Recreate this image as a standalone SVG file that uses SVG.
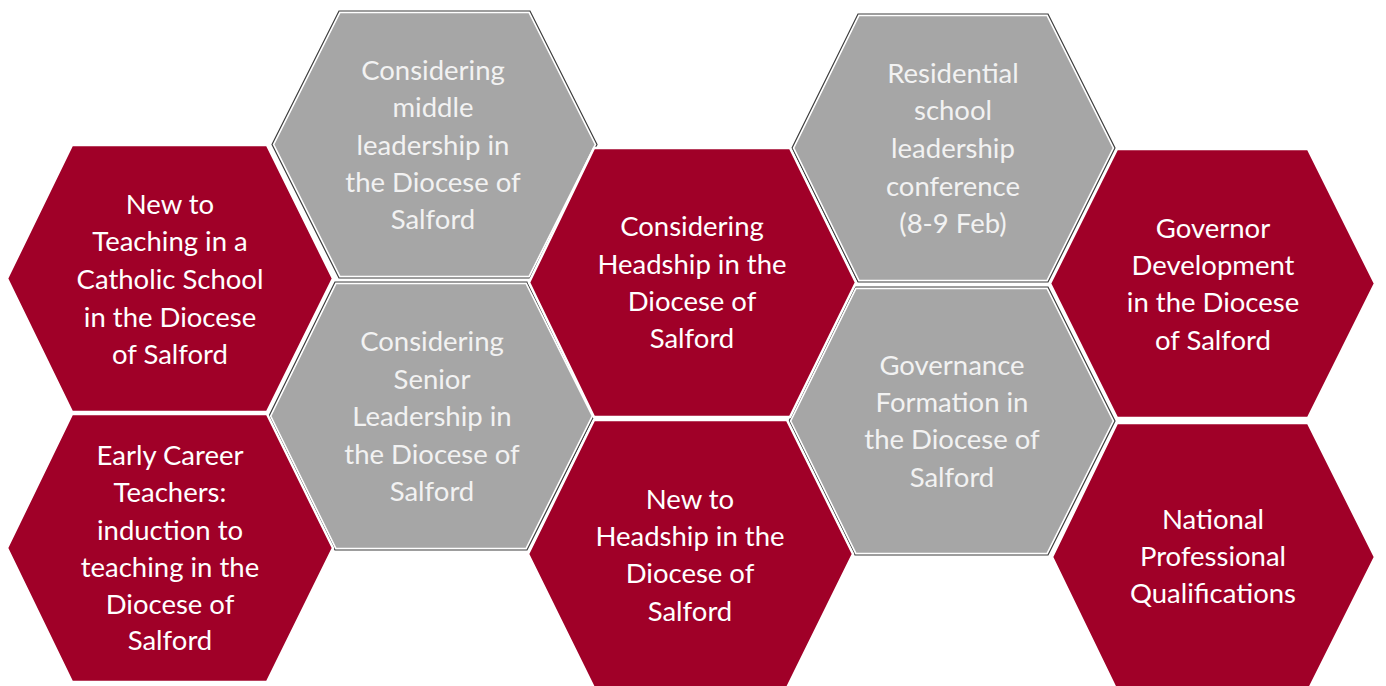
<svg xmlns="http://www.w3.org/2000/svg" width="1386" height="686" viewBox="0 0 1386 686">
<style>
.red{fill:#A00028;stroke:#ffffff;stroke-width:2.5;stroke-linejoin:miter}
.greyw{fill:#A6A6A6;stroke:#ffffff;stroke-width:4.5}
.greyd{fill:none;stroke:#3C3C3C;stroke-width:1.2}
text{font-family:"Lato","Liberation Sans",sans-serif;font-size:27.5px;text-anchor:middle}
.tr{fill:#ffffff}
.tg{fill:#F2F2F2}
</style>
<rect width="1386" height="686" fill="#ffffff"/>
<g id="connectors"></g>
<g id="n3">
<polygon class="greyw" points="339,11 530,11 597,144.5 530,278 339,278 272,144.5"/>
<polygon class="greyd" points="339,11 530,11 597,144.5 530,278 339,278 272,144.5"/>
<text class="tg"><tspan x="433" y="80">Considering</tspan><tspan x="433" y="117">middle</tspan><tspan x="433" y="155">leadership in</tspan><tspan x="433" y="192">the Diocese of</tspan><tspan x="433" y="229">Salford</tspan></text>
</g>
<g id="n4">
<polygon class="greyw" points="335,282 527,282 594,416 527,550 335,550 269,416"/>
<polygon class="greyd" points="335,282 527,282 594,416 527,550 335,550 269,416"/>
<text class="tg"><tspan x="432" y="351">Considering</tspan><tspan x="432" y="389">Senior</tspan><tspan x="432" y="426">Leadership in</tspan><tspan x="432" y="464">the Diocese of</tspan><tspan x="432" y="501">Salford</tspan></text>
</g>
<g id="n7">
<polygon class="greyw" points="858,14 1048,14 1115,148 1048,282 858,282 792,148"/>
<polygon class="greyd" points="858,14 1048,14 1115,148 1048,282 858,282 792,148"/>
<text class="tg"><tspan x="953" y="83">Residential</tspan><tspan x="953" y="120">school</tspan><tspan x="953" y="158">leadership</tspan><tspan x="953" y="196">conference</tspan><tspan x="953" y="233">(8-9 Feb)</tspan></text>
</g>
<g id="n8">
<polygon class="greyw" points="855,287 1048,287 1115,421 1048,555 855,555 789,421"/>
<polygon class="greyd" points="855,287 1048,287 1115,421 1048,555 855,555 789,421"/>
<text class="tg"><tspan x="952" y="375">Governance</tspan><tspan x="952" y="412">Formation in</tspan><tspan x="952" y="449">the Diocese of</tspan><tspan x="952" y="487">Salford</tspan></text>
</g>
<g id="n1">
<polygon class="red" points="72,145 267,145 333,278.5 267,412 72,412 7,278.5"/>
<text class="tr"><tspan x="170" y="214">New to</tspan><tspan x="170" y="251">Teaching in a</tspan><tspan x="170" y="289">Catholic School</tspan><tspan x="170" y="327">in the Diocese</tspan><tspan x="170" y="364">of Salford</tspan></text>
</g>
<g id="n2">
<polygon class="red" points="72,414 267,414 333,548 267,682 72,682 7,548"/>
<text class="tr"><tspan x="170" y="465">Early Career</tspan><tspan x="170" y="502">Teachers:</tspan><tspan x="170" y="540">induction to</tspan><tspan x="170" y="577">teaching in the</tspan><tspan x="170" y="614">Diocese of</tspan><tspan x="170" y="650">Salford</tspan></text>
</g>
<g id="n5">
<polygon class="red" points="594,148 790,148 856,282.5 790,417 594,417 529,282.5"/>
<text class="tr"><tspan x="692" y="236">Considering</tspan><tspan x="692" y="274">Headship in the</tspan><tspan x="692" y="311">Diocese of</tspan><tspan x="692" y="348">Salford</tspan></text>
</g>
<g id="n6">
<polygon class="red" points="594,420 787,420 853,554 787,688 594,688 528,554"/>
<text class="tr"><tspan x="690" y="509">New to</tspan><tspan x="690" y="546">Headship in the</tspan><tspan x="690" y="583">Diocese of</tspan><tspan x="690" y="621">Salford</tspan></text>
</g>
<g id="n9">
<polygon class="red" points="1117,149 1308,149 1375,283.5 1308,418 1117,418 1050,283.5"/>
<text class="tr"><tspan x="1213" y="238">Governor</tspan><tspan x="1213" y="275">Development</tspan><tspan x="1213" y="312">in the Diocese</tspan><tspan x="1213" y="350">of Salford</tspan></text>
</g>
<g id="n10">
<polygon class="red" points="1117,423 1308,423 1375,557 1308,691 1117,691 1052,557"/>
<text class="tr"><tspan x="1213" y="529">National</tspan><tspan x="1213" y="566">Professional</tspan><tspan x="1213" y="603">Qualifications</tspan></text>
</g>
</svg>
